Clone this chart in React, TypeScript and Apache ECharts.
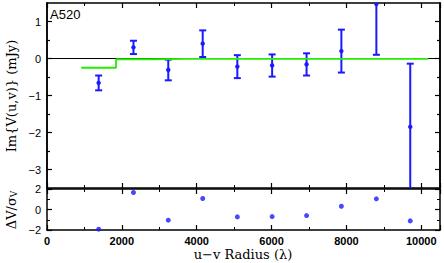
import React, { useEffect, useRef } from "react";
import * as echarts from "echarts";

// u-v radius bin centres (lambda)
const radius = [1380, 2310, 3240, 4160, 5085, 6015, 6935, 7865, 8800, 9705];
// Im{V(u,v)} (mJy)
const imV = [-0.66, 0.3, -0.31, 0.4, -0.22, -0.19, -0.16, 0.2, 1.47, -1.85];
const imErr = [0.2, 0.18, 0.28, 0.36, 0.31, 0.3, 0.3, 0.58, 1.37, 1.71];
// residuals dV / sigma_V
const resid = [-1.92, 1.66, -1.04, 1.07, -0.72, -0.69, -0.59, 0.32, 1.04, -1.11];
// model step function
const binEdges = [915, 1845, 2775, 3705, 4635, 5565, 6495, 7425, 8355, 9285, 10190];
const modelVals = [-0.25, -0.02, -0.01, -0.01, -0.01, -0.01, -0.01, -0.01, -0.01, -0.01];
const xTicks = [0, 2000, 4000, 6000, 8000, 10000];
const yMajor = [-3, -2, -1, 0, 1];
const yMinor = [-2.5, -1.5, -0.5, 0.5];

const BLUE = "#1a1aff";
const GREEN = "#22ee00";
const fmt = (v: number) => String(v).replace("-", "\u2212");

export default function App() {
  const ref = useRef<HTMLDivElement>(null);
  useEffect(() => {
    const chart = echarts.init(ref.current!, null, { renderer: "svg" });
    const axisLine = { show: true, onZero: false, lineStyle: { color: "#000", width: 1.5 } };
    const xBase = (grid: number, pos: "top" | "bottom", labels: boolean) => ({
      type: "value",
      gridIndex: grid,
      position: pos,
      min: 0,
      max: 10500,
      interval: 2000,
      axisLine,
      axisTick: { show: true, inside: true, length: 5, lineStyle: { color: "#000", width: 1.2 } },
      minorTick: { show: true, splitNumber: 2, length: 3, lineStyle: { color: "#000", width: 1 } },
      splitLine: { show: false },
      axisLabel: labels
        ? { show: true, color: "#000", fontSize: 11, fontFamily: "Liberation Sans, Arial", fontWeight: "bold", margin: 5, formatter: (v: number) => (xTicks.includes(v) ? String(v) : "") }
        : { show: false },
    });
    const yTop = (pos: "left" | "right", vals: number[], len: number, labels: boolean) => ({
      type: "value",
      gridIndex: 0,
      position: pos,
      min: -3.5,
      max: 1.5,
      axisLine,
      axisTick: { show: true, inside: true, length: len, customValues: vals, lineStyle: { color: "#000", width: 1.2 } },
      splitLine: { show: false },
      axisLabel: labels
        ? { show: true, customValues: vals, color: "#000", fontSize: 11, fontFamily: "Liberation Sans, Arial", margin: 6, formatter: fmt }
        : { show: false },
    });
    const yBot = (pos: "left" | "right", labels: boolean) => ({
      type: "value",
      gridIndex: 1,
      position: pos,
      min: -2,
      max: 2,
      interval: 2,
      axisLine,
      axisTick: { show: true, inside: true, length: 5, lineStyle: { color: "#000", width: 1.2 } },
      minorTick: { show: true, splitNumber: 2, length: 3, lineStyle: { color: "#000", width: 1 } },
      splitLine: { show: false },
      axisLabel: labels
        ? { show: true, color: "#000", fontSize: 11, fontFamily: "Liberation Sans, Arial", margin: 6, formatter: fmt }
        : { show: false },
    });

    const modelLine: number[][] = [];
    modelVals.forEach((v, i) => {
      modelLine.push([binEdges[i], v]);
      modelLine.push([binEdges[i + 1], v]);
    });

    chart.setOption({
      animation: false,
      backgroundColor: "#fff",
      grid: [
        { left: 47, right: 4, top: 3, height: 185 },
        { left: 47, right: 4, top: 189, height: 41 },
      ],
      xAxis: [
        xBase(0, "bottom", false),
        xBase(0, "top", false),
        xBase(1, "bottom", true),
        xBase(1, "top", false),
      ],
      yAxis: [
        yTop("left", yMajor, 5, true),
        yTop("left", yMinor, 3, false),
        yTop("right", yMajor, 5, false),
        yTop("right", yMinor, 3, false),
        yBot("left", true),
        yBot("right", false),
      ],
      graphic: [
        { type: "text", left: 50, top: 8, style: { text: "A520", fontSize: 13, fontFamily: "Liberation Sans, Arial", fill: "#000" } },
        {
          type: "text",
          x: 11,
          y: 96,
          rotation: Math.PI / 2,
          style: { text: "Im{V(u,v)} (mJy)", fontSize: 13, fontFamily: "DejaVu Serif", fill: "#000", align: "center", verticalAlign: "middle" },
        },
        {
          type: "text",
          x: 11,
          y: 210,
          rotation: Math.PI / 2,
          style: {
            text: "{a|ΔV/σ}{b|V}",
            rich: {
              a: { fontSize: 13, fontFamily: "DejaVu Serif", fill: "#000" },
              b: { fontSize: 9, fontFamily: "DejaVu Serif", fill: "#000", padding: [6, 0, 0, 0] },
            },
            align: "center",
            verticalAlign: "middle",
          },
        },
        {
          type: "text",
          x: 243,
          y: 254,
          style: { text: "u\u2212v Radius (\u03bb)", fontSize: 13, fontFamily: "DejaVu Serif", fill: "#000", align: "center", verticalAlign: "middle" },
        },
      ],
      series: [
        {
          type: "line",
          xAxisIndex: 0,
          yAxisIndex: 0,
          data: [[0, 0], [10500, 0]],
          symbol: "none",
          lineStyle: { color: "#000", width: 1 },
          silent: true,
        },
        {
          type: "line",
          xAxisIndex: 0,
          yAxisIndex: 0,
          data: modelLine,
          symbol: "none",
          lineStyle: { color: GREEN, width: 1.8 },
          silent: true,
        },
        {
          type: "custom",
          xAxisIndex: 0,
          yAxisIndex: 0,
          clip: true,
          data: radius.map((r, i) => [r, imV[i], imErr[i]]),
          renderItem: (params: any, api: any) => {
            const x = api.value(0);
            const y = api.value(1);
            const e = api.value(2);
            const c = api.coord([x, y]);
            const t = api.coord([x, y + e]);
            const b = api.coord([x, y - e]);
            const cap = 3.5;
            const st = { stroke: BLUE, lineWidth: 2 };
            return {
              type: "group",
              children: [
                { type: "line", shape: { x1: c[0], y1: t[1], x2: c[0], y2: b[1] }, style: st },
                { type: "line", shape: { x1: c[0] - cap, y1: t[1], x2: c[0] + cap, y2: t[1] }, style: st },
                { type: "line", shape: { x1: c[0] - cap, y1: b[1], x2: c[0] + cap, y2: b[1] }, style: st },
                { type: "circle", shape: { cx: c[0], cy: c[1], r: 2.2 }, style: { fill: BLUE } },
              ],
            };
          },
        },
        {
          type: "scatter",
          xAxisIndex: 2,
          yAxisIndex: 4,
          data: radius.map((r, i) => [r, resid[i]]),
          symbolSize: 5,
          itemStyle: { color: BLUE },
        },
      ],
    });
    return () => chart.dispose();
  }, []);
  return <div ref={ref} style={{ position: "fixed", left: 0, top: 0, width: 444, height: 263 }} />;
}
